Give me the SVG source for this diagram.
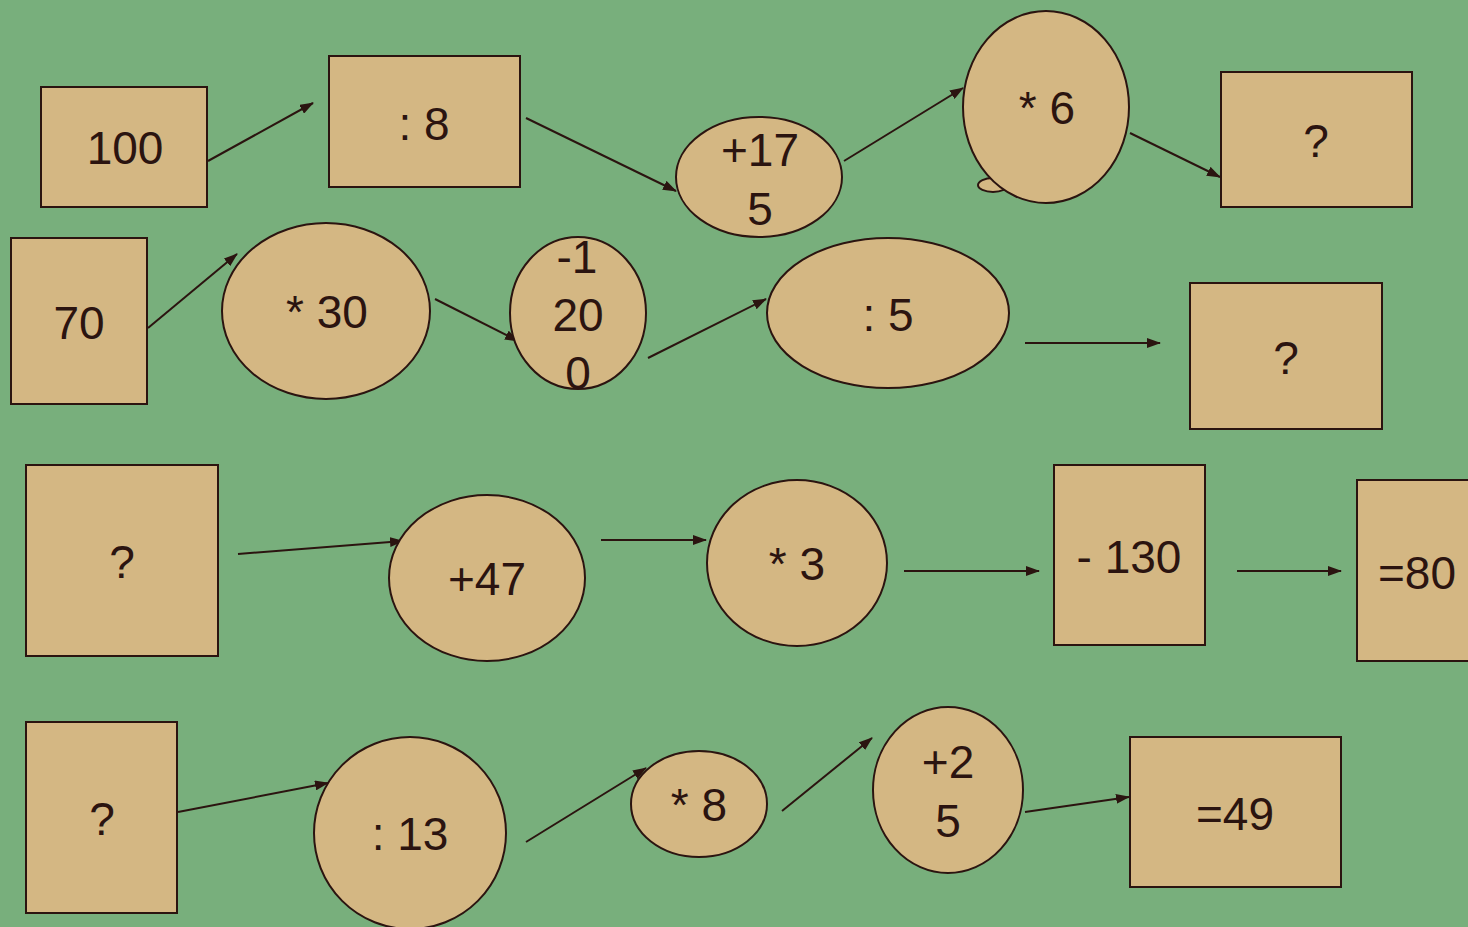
<svg xmlns="http://www.w3.org/2000/svg" width="1468" height="927" viewBox="0 0 1468 927">
<style>
.n{fill:#D4B783;stroke:#2B1410;stroke-width:2}
.t{font-family:"Liberation Sans",Arial,sans-serif;font-size:46px;fill:#2B1410;text-anchor:middle}
.c line{stroke:#2B1410;stroke-width:2;marker-end:url(#ah)}
</style>
<defs>
<marker id="ah" viewBox="0 0 14 10" refX="13" refY="5" markerWidth="14" markerHeight="10" markerUnits="userSpaceOnUse" orient="auto">
<path d="M0,0 L14,5 L0,10 Z" fill="#2B1410"/>
</marker>
</defs>
<rect width="1468" height="927" fill="#78AF7C"/>
<g class="c" id="connectors">
<line x1="208" y1="161" x2="313" y2="103"/>
<line x1="526" y1="118" x2="676" y2="191"/>
<line x1="844" y1="161" x2="963" y2="88"/>
<line x1="1130" y1="133" x2="1220" y2="177"/>
<line x1="148" y1="328" x2="237" y2="254"/>
<line x1="435" y1="299" x2="518" y2="341"/>
<line x1="648" y1="358" x2="766" y2="299"/>
<line x1="1025" y1="343" x2="1160" y2="343"/>
<line x1="238" y1="554" x2="403" y2="541"/>
<line x1="601" y1="540" x2="706" y2="540"/>
<line x1="904" y1="571" x2="1039" y2="571"/>
<line x1="1237" y1="571" x2="1341" y2="571"/>
<line x1="178" y1="812" x2="328" y2="783"/>
<line x1="526" y1="842" x2="646" y2="768"/>
<line x1="782" y1="811" x2="872" y2="738"/>
<line x1="1025" y1="812" x2="1129" y2="797"/>
</g>
<g id="n100"><rect class="n" x="41" y="87" width="166" height="120"/><text class="t" x="125" y="164">100</text></g>
<g id="ndiv8"><rect class="n" x="329" y="56" width="191" height="131"/><text class="t" x="424" y="140">: 8</text></g>
<g id="nplus175"><ellipse class="n" cx="759" cy="177" rx="83" ry="60"/><text class="t" x="760" y="166">+17</text><text class="t" x="760" y="225">5</text></g>
<g id="nmul6"><ellipse class="n" cx="993" cy="185" rx="15" ry="7"/><ellipse class="n" cx="1046" cy="107" rx="83" ry="96"/><text class="t" x="1047" y="124">* 6</text></g>
<g id="nq1"><rect class="n" x="1221" y="72" width="191" height="135"/><text class="t" x="1316" y="157">?</text></g>
<g id="n70"><rect class="n" x="11" y="238" width="136" height="166"/><text class="t" x="79" y="339">70</text></g>
<g id="nmul30"><ellipse class="n" cx="326" cy="311" rx="104" ry="88"/><text class="t" x="327" y="328">* 30</text></g>
<g id="nminus1200"><ellipse class="n" cx="578" cy="313" rx="68" ry="76"/><text class="t" x="577" y="273">-1</text><text class="t" x="578" y="331">20</text><text class="t" x="578" y="389">0</text></g>
<g id="ndiv5"><ellipse class="n" cx="888" cy="313" rx="121" ry="75"/><text class="t" x="888" y="331">: 5</text></g>
<g id="nq2"><rect class="n" x="1190" y="283" width="192" height="146"/><text class="t" x="1286" y="374">?</text></g>
<g id="nq3"><rect class="n" x="26" y="465" width="192" height="191"/><text class="t" x="122" y="578">?</text></g>
<g id="nplus47"><ellipse class="n" cx="487" cy="578" rx="98" ry="83"/><text class="t" x="487" y="595">+47</text></g>
<g id="nmul3"><ellipse class="n" cx="797" cy="563" rx="90" ry="83"/><text class="t" x="797" y="580">* 3</text></g>
<g id="nminus130"><rect class="n" x="1054" y="465" width="151" height="180"/><text class="t" x="1129" y="573">- 130</text></g>
<g id="neq80"><rect class="n" x="1357" y="480" width="120" height="181"/><text class="t" x="1417" y="589">=80</text></g>
<g id="nq4"><rect class="n" x="26" y="722" width="151" height="191"/><text class="t" x="102" y="835">?</text></g>
<g id="ndiv13"><ellipse class="n" cx="410" cy="833" rx="96" ry="96"/><text class="t" x="410" y="850">: 13</text></g>
<g id="nmul8"><ellipse class="n" cx="699" cy="804" rx="68" ry="53"/><text class="t" x="699" y="821">* 8</text></g>
<g id="nplus25"><ellipse class="n" cx="948" cy="790" rx="75" ry="83"/><text class="t" x="948" y="778">+2</text><text class="t" x="948" y="837">5</text></g>
<g id="neq49"><rect class="n" x="1130" y="737" width="211" height="150"/><text class="t" x="1235" y="830">=49</text></g>
</svg>
